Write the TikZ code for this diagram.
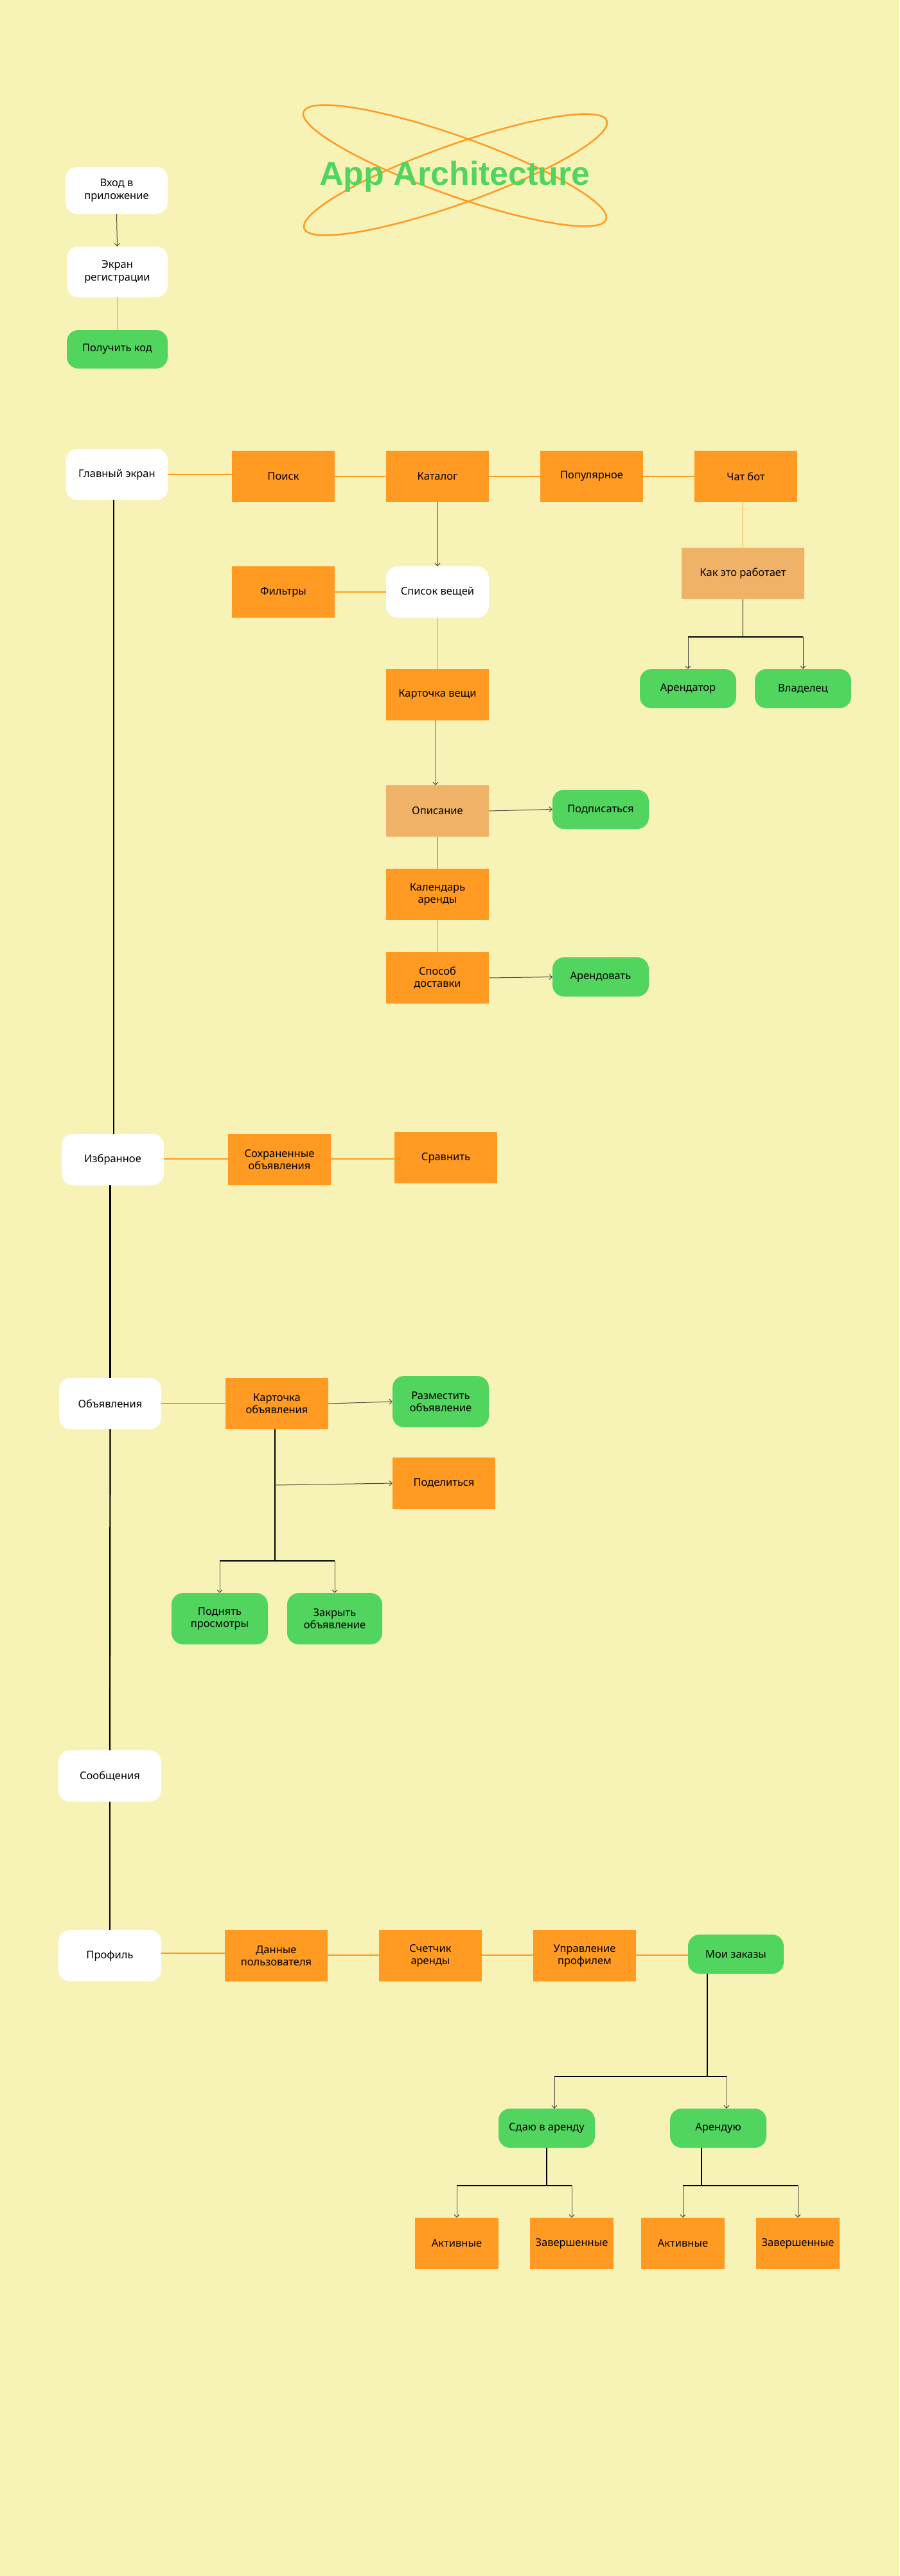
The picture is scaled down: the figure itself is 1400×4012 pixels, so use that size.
\documentclass[tikz,border=0pt]{standalone}
\usepackage{fontspec}
\setmainfont{Noto Sans}
\newfontfamily\titlefont{Liberation Sans}[BoldFont={Liberation Sans Bold}]
\usetikzlibrary{arrows.meta,calc}
\definecolor{bg}{HTML}{F7F3B7}
\definecolor{org}{HTML}{FF9A22}
\definecolor{lorg}{HTML}{F0B266}
\definecolor{grn}{HTML}{52D55E}
\definecolor{arr}{HTML}{4A4A40}
\begin{document}
\begin{tikzpicture}[x=1pt,y=-1pt,
  box/.style={minimum width=160pt,minimum height=80pt,inner sep=2pt,align=center,
    font=\fontsize{16.5}{19.5}\selectfont,text=black},
  wbox/.style={box,fill=white,rounded corners=18pt},
  obox/.style={box,fill=org},
  lbox/.style={box,fill=lorg},
  gbox/.style={box,fill=grn,rounded corners=18pt},
  oline/.style={draw=org,line width=1.5pt},
  othin/.style={draw=org,line width=1pt},
  tline/.style={draw=arr!60!lorg,line width=0.8pt},
  harr/.style={draw=arr,line width=1pt,-{Straight Barb[length=4pt,width=8pt]}},
  bline/.style={draw=black,line width=1.5pt},
  spine/.style={draw=black,line width=2.2pt},
  orb/.style={draw=org,line width=2.5pt}
]
\useasboundingbox (0,0) rectangle (1400,4012);
\fill[bg] (0,0) rectangle (1400,4012);

% title
\draw[orb, rotate around={-19.6:(708,258)}] (708,258) ellipse [x radius=250pt, y radius=46pt];
\draw[orb, rotate around={19.6:(709,272)}] (709,272) ellipse [x radius=250pt, y radius=46pt];
\node[font={\titlefont\bfseries\fontsize{52}{60}\selectfont}, text=grn, anchor=base, inner sep=0pt] (title) at (708,288) {App Architecture};

% login
\node[wbox,minimum width=159pt,minimum height=73pt] (vhod) at (181.5,296.5) {Вход в\\приложение};
\node[wbox,minimum width=157pt,minimum height=79pt] (ekran) at (182.5,423.5) {Экран\\регистрации};
\node[gbox,minimum width=157pt,minimum height=60pt] (kod) at (182.5,544) {Получить код};
\draw[harr] (vhod.south) -- (ekran.north);
\draw[othin] (ekran.south) -- (kod.north);

% main screen
\node[wbox,minimum width=158pt] (glav) at (182,739) {Главный экран};
\node[obox] (poisk) at (441,742) {Поиск};
\node[obox] (katalog) at (681,742) {Каталог};
\node[obox] (popular) at (921,742) {Популярное};
\node[obox] (chatbot) at (1161,742) {Чат бот};
\node[obox] (filtry) at (441,922) {Фильтры};
\node[wbox] (spisok) at (681,922) {Список вещей};
\node[lbox,minimum width=191pt] (kak) at (1156.5,893) {Как это работает};
\node[gbox,minimum width=150pt,minimum height=61pt] (arendator) at (1071,1072.5) {Арендатор};
\node[gbox,minimum width=150pt,minimum height=61pt] (vladelec) at (1250,1072.5) {Владелец};
\node[obox] (kartochka) at (681,1082) {Карточка вещи};
\node[lbox] (opisanie) at (681,1263) {Описание};
\node[gbox,minimum width=150pt,minimum height=61pt] (podpis) at (935,1260.5) {Подписаться};
\node[obox] (kalendar) at (681,1393) {Календарь\\аренды};
\node[obox] (sposob) at (681,1523) {Способ\\доставки};
\node[gbox,minimum width=150pt,minimum height=61pt] (arendovat) at (935,1521.5) {Арендовать};

\draw[oline] (glav.east) -- (glav.east -| poisk.west);
\draw[oline] (poisk) -- (katalog);
\draw[oline] (katalog) -- (popular);
\draw[oline] (popular) -- (chatbot);
\draw[harr] (katalog.south) -- (spisok.north);
\draw[oline] (filtry) -- (spisok);
\draw[othin] (spisok.south) -- (kartochka.north);
\draw[othin] (chatbot.south -| kak.north) -- (kak.north);
\draw[bline] (kak.south) -- ++(0,59) coordinate (kj);
\draw[bline] (arendator.north |- kj) -- (vladelec.north |- kj);
\draw[harr] (arendator.north |- kj) -- (arendator.north);
\draw[harr] (vladelec.north |- kj) -- (vladelec.north);
\draw[harr] ([xshift=-3pt]kartochka.south) -- ([xshift=-3pt]opisanie.north);
\draw[harr] (opisanie.east) -- (podpis.west);
\draw[tline] (opisanie.south) -- (kalendar.north);
\draw[othin] (kalendar.south) -- (sposob.north);
\draw[harr] (sposob.east) -- (arendovat.west);

% favourites
\node[wbox,minimum width=159pt] (izbr) at (175.5,1806) {Избранное};
\node[obox] (sohr) at (435,1806) {Сохраненные\\объявления};
\node[obox] (sravnit) at (694,1803) {Сравнить};
\draw[oline] (izbr.east |- 0,1805) -- (sohr.west |- 0,1805);
\draw[oline] (sohr.east |- 0,1805) -- (sravnit.west |- 0,1805);

% ads
\node[wbox,minimum width=159pt] (obyavl) at (171.5,2186) {Объявления};
\node[obox] (kartobj) at (431,2186) {Карточка\\объявления};
\node[gbox,minimum width=150pt] (razmest) at (686,2183) {Разместить\\объявление};
\node[obox] (podel) at (691,2310) {Поделиться};
\node[gbox,minimum width=150pt] (podnyat) at (342,2521) {Поднять\\просмотры};
\node[gbox,minimum width=148pt] (zakryt) at (521,2521) {Закрыть\\объявление};
\draw[oline] (obyavl) -- (kartobj);
\draw[harr] (kartobj.east) -- (razmest.west);
\draw[bline] ([xshift=-3pt]kartobj.south) -- ++(0,205) coordinate (kb);
\draw[harr] ([xshift=-3pt]kartobj.south |- 0,2313) -- (podel.west);
\draw[bline] (podnyat.north |- kb) -- (zakryt.north |- kb);
\draw[harr] (podnyat.north |- kb) -- (podnyat.north);
\draw[harr] (zakryt.north |- kb) -- (zakryt.north);

% messages, profile
\node[wbox] (soobsh) at (171,2766) {Сообщения};
\node[wbox] (profil) at (171,3046) {Профиль};
\node[obox] (dannye) at (430,3046) {Данные\\пользователя};
\node[obox] (schet) at (670,3046) {Счетчик\\аренды};
\node[obox] (upravl) at (910,3046) {Управление\\профилем};
\node[gbox,minimum width=149pt,minimum height=61pt] (moi) at (1145.5,3043.5) {Мои заказы};
\draw[oline] (profil.east |- 0,3042) -- (dannye.west |- 0,3042);
\draw[oline] (dannye.east |- 0,3045) -- (schet.west |- 0,3045);
\draw[oline] (schet.east |- 0,3045) -- (upravl.west |- 0,3045);
\draw[oline] (upravl.east |- 0,3045) -- (moi.west |- 0,3045);

\node[gbox,minimum width=150pt,minimum height=61pt] (sdayu) at (851,3314.5) {Сдаю в аренду};
\node[gbox,minimum width=150pt,minimum height=61pt] (arenduyu) at (1118,3314.5) {Арендую};
\node[obox,minimum width=130pt] (akt1) at (711,3494) {Активные};
\node[obox,minimum width=130pt] (zav1) at (890,3494) {Завершенные};
\node[obox,minimum width=130pt] (akt2) at (1063,3494) {Активные};
\node[obox,minimum width=130pt] (zav2) at (1242,3494) {Завершенные};

\draw[bline] ([xshift=-44.5pt]moi.south) -- ++(0,160) coordinate (mj);
\draw[bline] ([xshift=12pt]sdayu.north |- mj) -- ([xshift=13pt]arenduyu.north |- mj);
\draw[harr] ([xshift=12pt]sdayu.north |- mj) -- ([xshift=12pt]sdayu.north);
\draw[harr] ([xshift=13pt]arenduyu.north |- mj) -- ([xshift=13pt]arenduyu.north);
\draw[bline] (sdayu.south) -- ++(0,59) coordinate (sj);
\draw[bline] (akt1.north |- sj) -- (zav1.north |- sj);
\draw[harr] (akt1.north |- sj) -- (akt1.north);
\draw[harr] (zav1.north |- sj) -- (zav1.north);
\draw[bline] ([xshift=-26pt]arenduyu.south) -- ++(0,59) coordinate (aj);
\draw[bline] (akt2.north |- aj) -- (zav2.north |- aj);
\draw[harr] (akt2.north |- aj) -- (akt2.north);
\draw[harr] (zav2.north |- aj) -- (zav2.north);

% spine
\draw[spine] ([xshift=-5pt]glav.south) -- ([xshift=-5pt]glav.south |- izbr.north);
\draw[spine] (obyavl.north |- izbr.south) -- (obyavl.north);
\draw[spine] (obyavl.south) -- (soobsh.north);
\draw[spine] (soobsh.south) -- (profil.north);
\end{tikzpicture}
\end{document}
